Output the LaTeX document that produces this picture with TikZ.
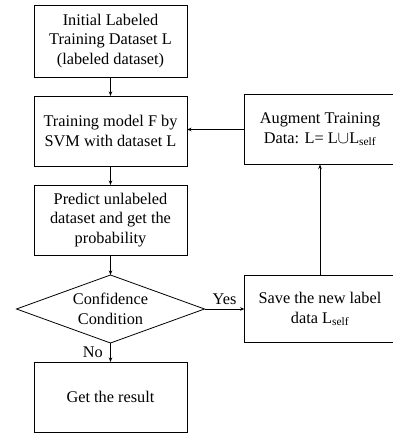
\documentclass[tikz,border=0pt]{standalone}
\usepackage{fontspec}
\setmainfont{Liberation Serif}
\usetikzlibrary{positioning, arrows.meta, shapes.geometric}

\begin{document}
\begin{tikzpicture}[
  node distance=19pt,
  every node/.style={font=\fontsize{16.3}{19.5}\selectfont, align=center},
  box/.style={draw, line width=0.8pt, outer sep=0pt, minimum width=153pt, minimum height=70pt, inner sep=2pt},
  sidebox/.style={box, minimum width=151pt},
  decision/.style={draw, line width=0.8pt, outer sep=0pt, diamond, aspect=2.76, inner sep=0pt,
    minimum width=188pt, minimum height=68pt},
  flow/.style={line width=0.8pt, -{Stealth[length=4.5pt, width=3.5pt]}}
]
\useasboundingbox (0,0) rectangle (393pt,-434pt);

\node[box, minimum height=72pt] (init) at (110.5pt,-41pt)
  {Initial Labeled\\Training Dataset L\\(labeled dataset)};
\node[box, below=of init] (train) {Training model F by\\SVM with dataset L};
\node[box, below=of train] (predict) {Predict unlabeled\\dataset and get the\\probability};
\node[decision, below=20pt of predict] (cond) {Confidence\\Condition};
\node[box, below=19pt of cond] (result) {Get the result};
\node[sidebox, minimum height=67pt, right=40pt of cond] (save)
  {Save the new label\\data L\textsubscript{self}};
\node[sidebox, above=111pt of save] (augment)
  {Augment Training\\Data: L= L$\cup$L\textsubscript{self}};

\draw[flow] (init) -- (train);
\draw[flow] (train) -- (predict);
\draw[flow] (predict) -- (cond);
\draw[flow] (cond) -- node[above=1pt] {Yes} (save);
\draw[flow] (cond) -- node[left=4pt] {No} (result);
\draw[flow] (save) -- (augment);
\draw[flow] (augment.west) -- (augment.west -| train.east);
\end{tikzpicture}
\end{document}
